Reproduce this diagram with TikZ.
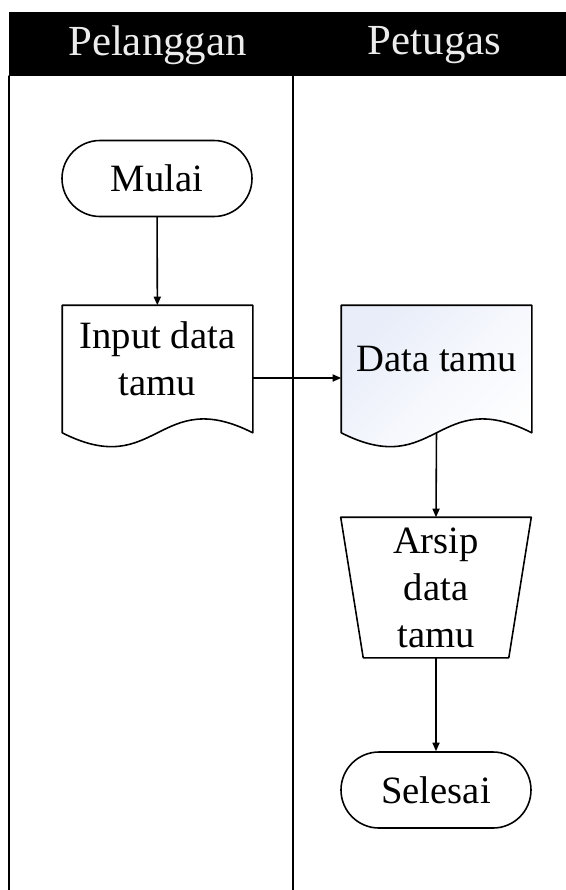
\documentclass[tikz,border=0pt]{standalone}
\usepackage{fontspec}
\setmainfont{Liberation Serif}
\usepackage{tikz}
\usetikzlibrary{positioning}
\usetikzlibrary{arrows.meta,calc,backgrounds}
\definecolor{docblue}{RGB}{232,237,249}
\definecolor{headtext}{RGB}{236,236,236}
\tikzstyle{every node}=[font=\fontsize{22pt}{26.8pt}\selectfont]
\tikzstyle{every path}=[line width=0.9pt,line cap=round,line join=round]
\tikzstyle{lajur}=[line width=0.8pt]
\tikzstyle{judul}=[text=headtext,font=\fontsize{24.4pt}{29pt}\selectfont]
\tikzstyle{terminal}=[draw,rounded corners=0.76cm,minimum width=3.8cm,minimum height=1.52cm,inner sep=0pt]
\tikzstyle{dokumen}=[minimum width=3.78cm,minimum height=2.52cm,inner sep=0pt,align=center]
\tikzstyle{arsipbox}=[minimum width=3.78cm,minimum height=2.78cm,inner sep=0pt,align=center]
\tikzstyle{panah}=[-{Triangle[length=1.7mm,width=1.4mm]}]

\begin{document}
\begin{tikzpicture}
  \useasboundingbox (0,0) rectangle (11.32,-17.8);
  % header lajur
  \fill (0.18,-0.24) rectangle (11.32,-1.52);
  \node[judul] (pelanggan) at (3.15,-0.9) {Pelanggan};
  \node[judul] (petugas) at (8.69,-0.9) {Petugas};
  \draw[lajur] (0.18,-1.52)--(0.18,-17.8)
  (5.86,-1.52)--(5.86,-17.8);
  % simbol
  \node[terminal] (mulai) at (3.14,-3.57) {Mulai};
  \node[dokumen,text depth=0.42cm] (input) at (3.15,-7.38) {Input data\\tamu};
  \node[dokumen,text depth=0.4cm] (data) at (8.73,-7.38) {Data tamu};
  \node[arsipbox] (arsip) at (8.72,-11.75) {Arsip\\data\\tamu};
  \node[terminal] (selesai) at (8.72,-15.8) {Selesai};
  \draw (input.south west)--(input.north west)--(input.north east)--(input.south east)
  .. controls +(-1.89,0.96) and +(1.89,-0.96) .. (input.south west)--cycle;
  \begin{pgfonlayer}{background}
  \draw[top color=docblue,bottom color=white,middle color=white!60!docblue,shading angle=45]
  (data.south west)--(data.north west)--(data.north east)--(data.south east)
  .. controls +(-1.89,0.96) and +(1.89,-0.96) .. (data.south west)--cycle;
  \end{pgfonlayer}
  \draw (arsip.north west)--(arsip.north east)--([xshift=-0.45cm]arsip.south east)
  --([xshift=0.45cm]arsip.south west)--cycle;
  % alur
  \draw[panah] (mulai)--(input);
  \draw[panah] ([yshift=-0.18cm]input.east)--([yshift=-0.18cm]data.west);
  \draw[panah] (data.south)--(arsip.north);
  \draw[panah] (arsip.south)--(selesai.north);
\end{tikzpicture}
\end{document}
